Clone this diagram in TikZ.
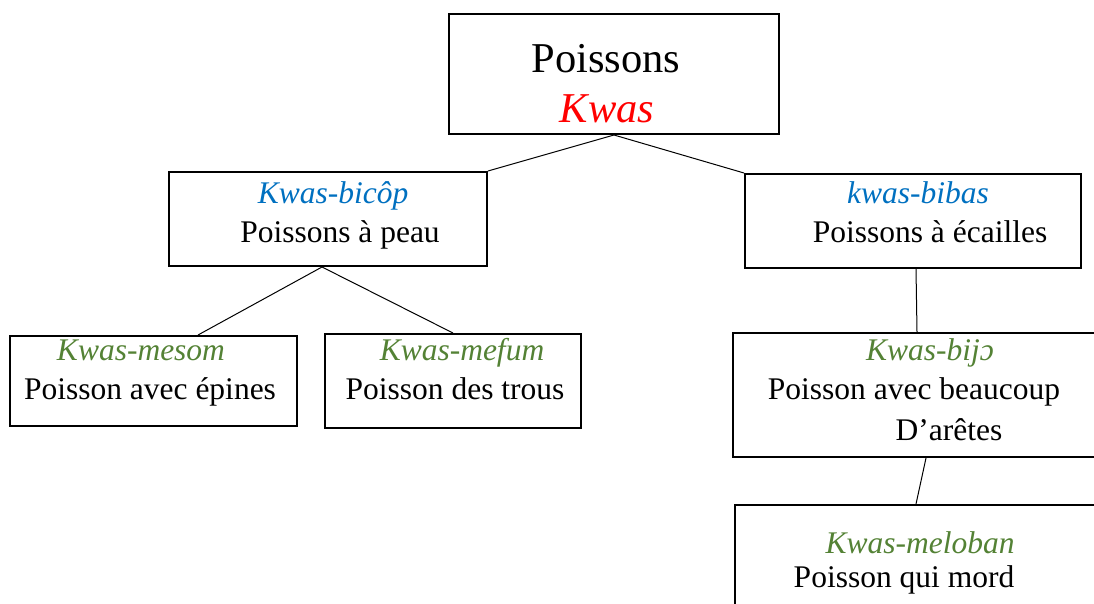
\documentclass[tikz,border=0pt]{standalone}
\usepackage{fontspec}
\setmainfont{Liberation Serif}
\usetikzlibrary{calc}
\definecolor{kblue}{HTML}{0070C0}
\definecolor{kgreen}{HTML}{548235}
\definecolor{kred}{HTML}{FF0000}
\begin{document}
\begin{tikzpicture}[x=1pt,y=-1pt,
  box/.style={draw=black,line width=2pt,rectangle,inner sep=0pt},
  conn/.style={draw=black,line width=1pt},
  txt/.style={anchor=base,inner sep=0pt,font=\fontsize{31.5}{38}\selectfont},
  big/.style={anchor=base,inner sep=0pt,font=\fontsize{42.5}{50}\selectfont},
  gname/.style={txt,text=kgreen,font=\fontsize{31.5}{38}\selectfont\itshape},
  bname/.style={txt,text=kblue,font=\fontsize{31.5}{38}\selectfont\itshape}]
\useasboundingbox (0,0) rectangle (1094,603);
\clip (0,0) rectangle (1094,603);
% boxes
\node[box,minimum width=330pt,minimum height=120pt] (top) at (614,74) {};
\node[box,minimum width=318pt,minimum height=94pt] (bicop) at (328,219) {};
\node[box,minimum width=336pt,minimum height=94pt] (bibas) at (913,221) {};
\node[box,minimum width=287pt,minimum height=90pt] (mesom) at (153.5,381) {};
\node[box,minimum width=256pt,minimum height=94pt] (mefum) at (453,381) {};
\node[box,minimum width=377pt,minimum height=124pt] (bijo) at (921.5,395) {};
\node[box,minimum width=375pt,minimum height=115pt] (meloban) at (922.5,562.5) {};
% texts
\node[big] (t1) at (606,72) {Poissons};
\node[big,text=kred,font=\fontsize{42.5}{50}\selectfont\itshape] (t2) at (607,122) {Kwas};
\node[bname] (t3) at (333,203) {Kwas-bicôp};
\node[txt] (t4) at (340,242) {Poissons à peau};
\node[bname] (t5) at (918,203) {kwas-bibas};
\node[txt] (t6) at (930,242) {Poissons à écailles};
\node[gname] (t7) at (141,360) {Kwas-mesom};
\node[txt] (t8) at (150,399) {Poisson avec épines};
\node[gname] (t9) at (462,360) {Kwas-mefum};
\node[txt] (t10) at (455,399) {Poisson des trous};
\node[gname] (t11) at (930,360) {Kwas-bijɔ};
\node[txt] (t12) at (914,399) {Poisson avec beaucoup};
\node[txt] (t13) at (949,440) {D’arêtes};
\node[gname] (t14) at (920,553) {Kwas-meloban};
\node[txt] (t15) at (904,587) {Poisson qui mord};
% connectors
\draw[conn] (top.south) -- (bicop.north east);
\draw[conn] (top.south) -- (bibas.north west);
\draw[conn] ($(bicop.south)+(-6,0)$) -- ($(mesom.north)+(44.5,0)$);
\draw[conn] ($(bicop.south)+(-6,0)$) -- (mefum.north);
\draw[conn] ($(bibas.south)+(3,0)$) -- ($(bijo.north)+(-4.5,0)$);
\draw[conn] ($(bijo.south)+(4.5,0)$) -- ($(meloban.north)+(-6.5,0)$);
\end{tikzpicture}
\end{document}
